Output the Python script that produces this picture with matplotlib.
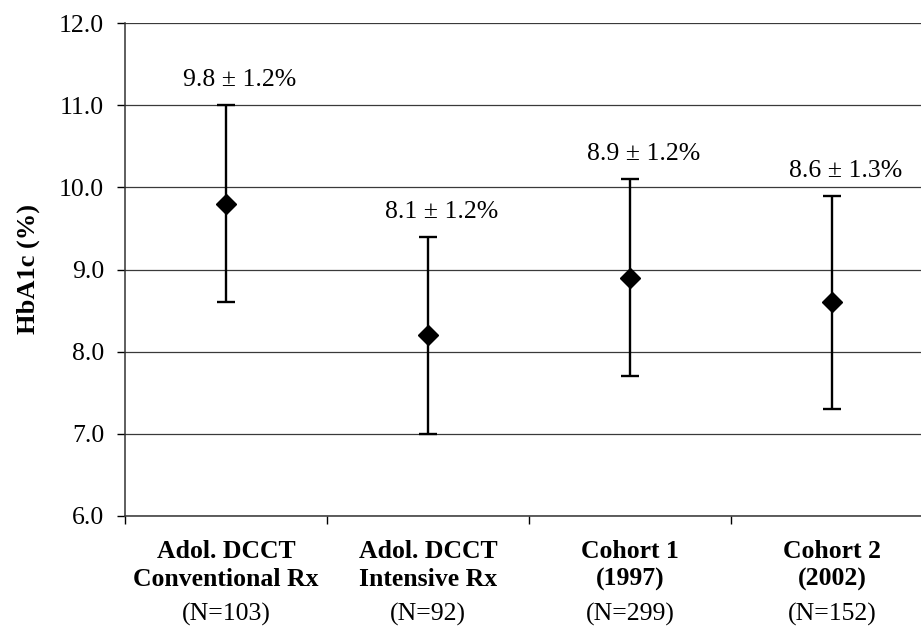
import matplotlib.pyplot as plt
from matplotlib.ticker import MultipleLocator, FixedLocator

plt.rcParams['font.family'] = ['Liberation Serif', 'DejaVu Serif']

groups = ["Adol. DCCT\nConventional Rx", "Adol. DCCT\nIntensive Rx", "Cohort 1\n(1997)", "Cohort 2\n(2002)"]
n_labels = ["(N=103)", "(N=92)", "(N=299)", "(N=152)"]
means = [9.8, 8.2, 8.9, 8.6]
sds = [1.2, 1.2, 1.2, 1.3]
value_labels = ["9.8 \u00b1 1.2%", "8.1 \u00b1 1.2%", "8.9 \u00b1 1.2%", "8.6 \u00b1 1.3%"]

fig = plt.figure(figsize=(9.21, 6.31), dpi=100)
# plot area runs a little past the right edge, like the original
ax = fig.add_axes([125 / 921, (631 - 516) / 631, 808 / 921, 493 / 631])

x = list(range(len(groups)))
ax.errorbar(x, means, yerr=sds, fmt='D', color='black', markersize=10.5,
            elinewidth=1.7, capsize=6.5, capthick=1.7, zorder=3)

for xi, m, s, lab in zip(x, means, sds, value_labels):
    ax.annotate(lab, (xi, m + s), xytext=(10, 18), textcoords='offset points',
                ha='center', va='center', fontsize=18.5)

ax.set_xlim(-0.5, len(groups) - 0.5)
ax.set_ylim(6.0, 12.0)
ax.yaxis.set_major_locator(MultipleLocator(1.0))
ax.set_yticklabels([f"{v:.1f}" for v in ax.get_yticks()])
ax.grid(axis='y', color='#3a3a3a', linewidth=0.9)
ax.set_axisbelow(True)

ax.set_xticks(x)
ax.set_xticklabels(groups, fontsize=18.5, fontweight='bold', linespacing=1.3)
ax.tick_params(axis='x', which='major', length=0, pad=17)
ax.xaxis.set_minor_locator(FixedLocator([i - 0.5 for i in range(len(groups) + 1)]))
ax.tick_params(axis='x', which='minor', length=6, direction='out', width=1)
ax.tick_params(axis='y', length=6, width=1, direction='out', labelsize=18.5, pad=9)

for xi, nl in zip(x, n_labels):
    ax.text(xi, -0.2, nl, transform=ax.get_xaxis_transform(), ha='center',
            va='center', fontsize=18.5)

ax.set_ylabel("HbA1c (%)", fontsize=19, fontweight='bold', labelpad=14)

for side in ['top', 'right']:
    ax.spines[side].set_visible(False)
for side in ['left', 'bottom']:
    ax.spines[side].set_color('#333333')
    ax.spines[side].set_linewidth(1.1)

fig.savefig("out.png", dpi=100)
